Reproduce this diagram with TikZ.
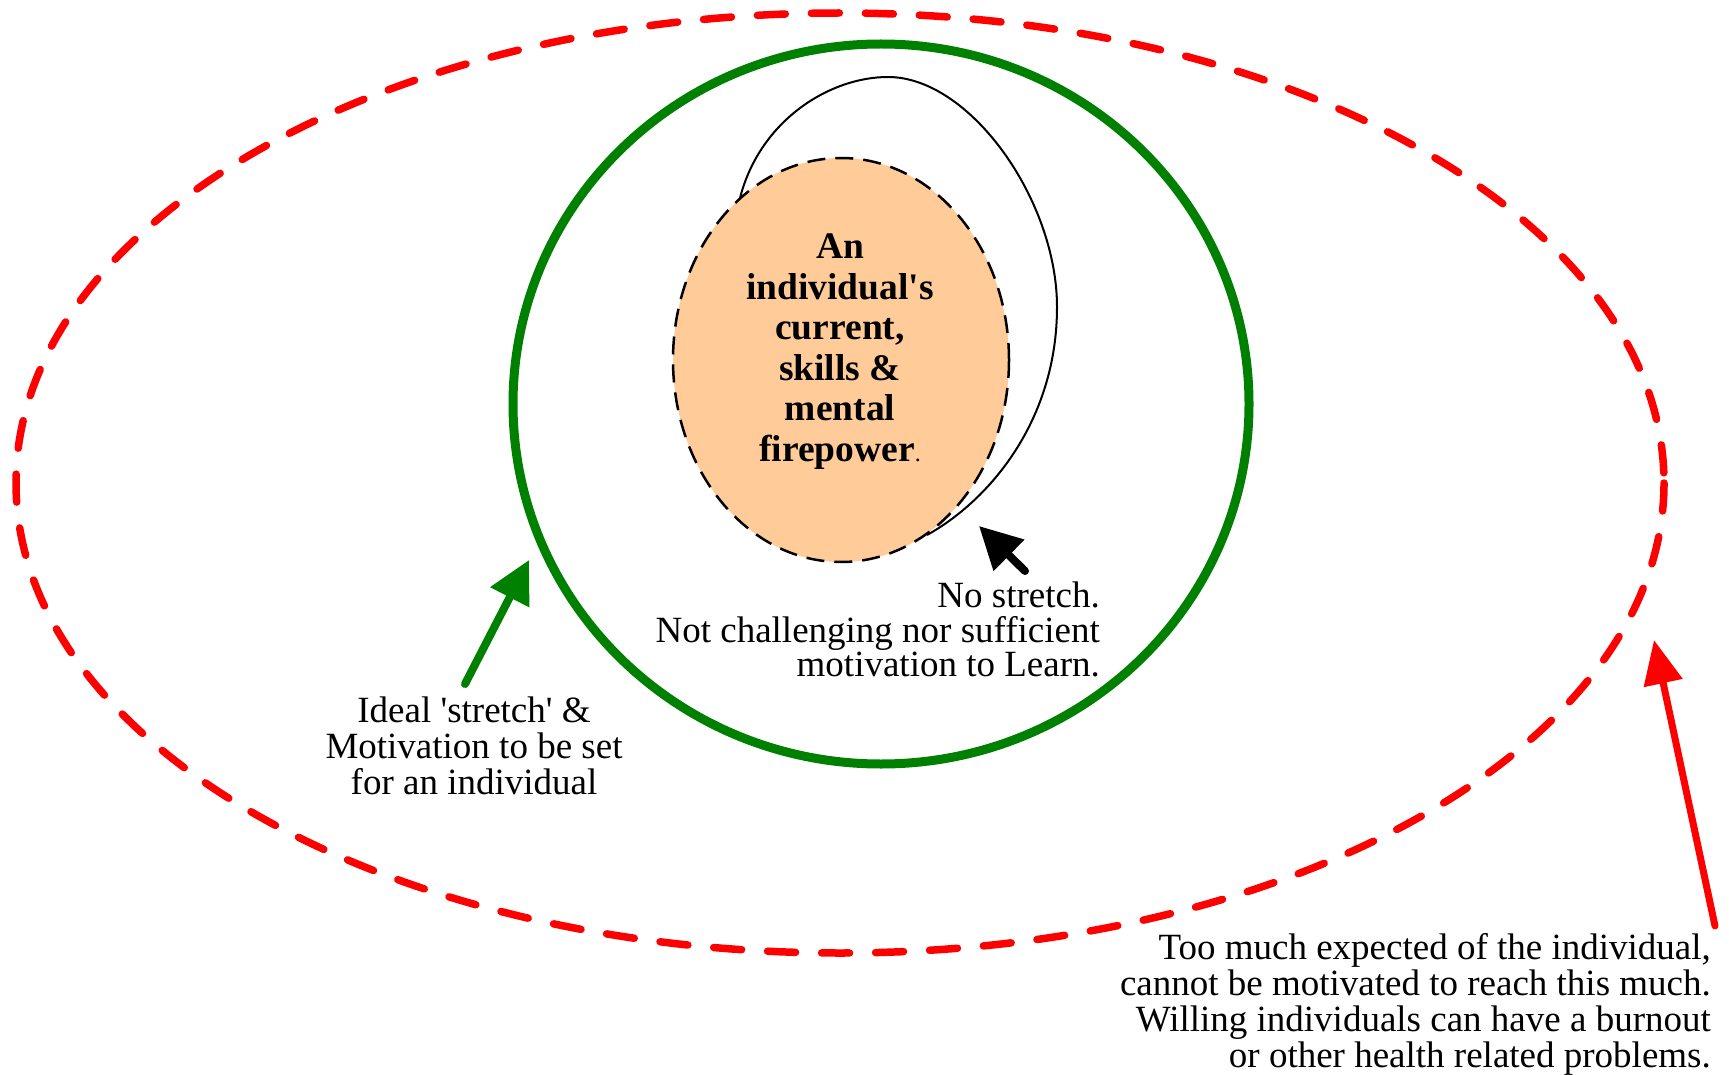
\documentclass[tikz,border=0pt]{standalone}
\usepackage{fontspec}
\setmainfont{Liberation Serif}[Ligatures=TeXOff]
\usetikzlibrary{arrows.meta}

\definecolor{peach}{RGB}{255,204,153}
\definecolor{webgreen}{RGB}{0,128,0}

\tikzset{
    pointer/.style={line width=8pt, line cap=round, -{Triangle[length=42pt,width=42pt]}},
    note/.style={font=\fontsize{37}{36}\selectfont, inner sep=0pt}
}

\begin{document}
\begin{tikzpicture}[x=1pt, y=-1pt]
    % Define coordinates
    \coordinate (outer) at (840,483);
    \coordinate (ideal) at (881,404);
    \coordinate (core) at (841,360);
    \coordinate (loopstart) at (740,198);
    \coordinate (loopend) at (927,535);
    \coordinate (greentail) at (465,684);
    \coordinate (greentip) at (529,560);
    \coordinate (blacktail) at (1025,571);
    \coordinate (blacktip) at (979,526);
    \coordinate (redtail) at (1715,926);
    \coordinate (redtip) at (1654,640);

    \useasboundingbox (0,0) rectangle (1729,1075);

    % Draw the three zones
    \draw[red, line width=7.5pt, line cap=round, dash pattern=on 28pt off 26pt] (outer) ellipse [x radius=824, y radius=470];
    \draw[webgreen, line width=9pt] (ideal) ellipse [x radius=368, y radius=360];
    \filldraw[fill=peach, draw=black, line width=2.5pt, dash pattern=on 18pt off 10pt] (core) ellipse [x radius=168, y radius=202];

    % The comfort loop round the core
    \draw[line width=2pt] (loopstart) .. controls (760,120) and (830,77) .. (888,77)
        .. controls (970,77) and (1057,200) .. (1057,307)
        .. controls (1057,420) and (990,500) .. (loopend);

    % Pointers
    \draw[pointer, webgreen] (greentail) -- (greentip);
    \draw[pointer, black] (blacktail) -- (blacktip);
    \draw[pointer, red, line width=7pt, -{Triangle[length=44pt,width=38pt]}] (redtail) -- (redtip);

    % Labels (base = last line)
    \node[inner sep=0pt, align=center, font=\fontsize{37.5}{40.5}\selectfont\bfseries, anchor=base] (corelabel) at (840,461)
        {An\\individual's\\current,\\skills \&\\mental\\firepower{\mdseries\fontsize{24}{24}\selectfont.}};
    \node[note, align=right, anchor=base east] (nostretch) at (1100,607) {No stretch.};
    \node[note, align=right, anchor=base east, font=\fontsize{37}{30}\selectfont] (notchallenging) at (1100,676)
        {Not challenging nor sufficient\\motivation to Learn.};
    \node[note, align=center, anchor=base] (ideallabel) at (474,794)
        {Ideal 'stretch' \&\\Motivation to be set\\for an individual};
    \node[note, align=right, anchor=base east] (toomuch) at (1711,1067)
        {Too much expected of the individual,\\cannot be motivated to reach this much.\\Willing individuals can have a burnout\\or other health related problems.};

\end{tikzpicture}
\end{document}
